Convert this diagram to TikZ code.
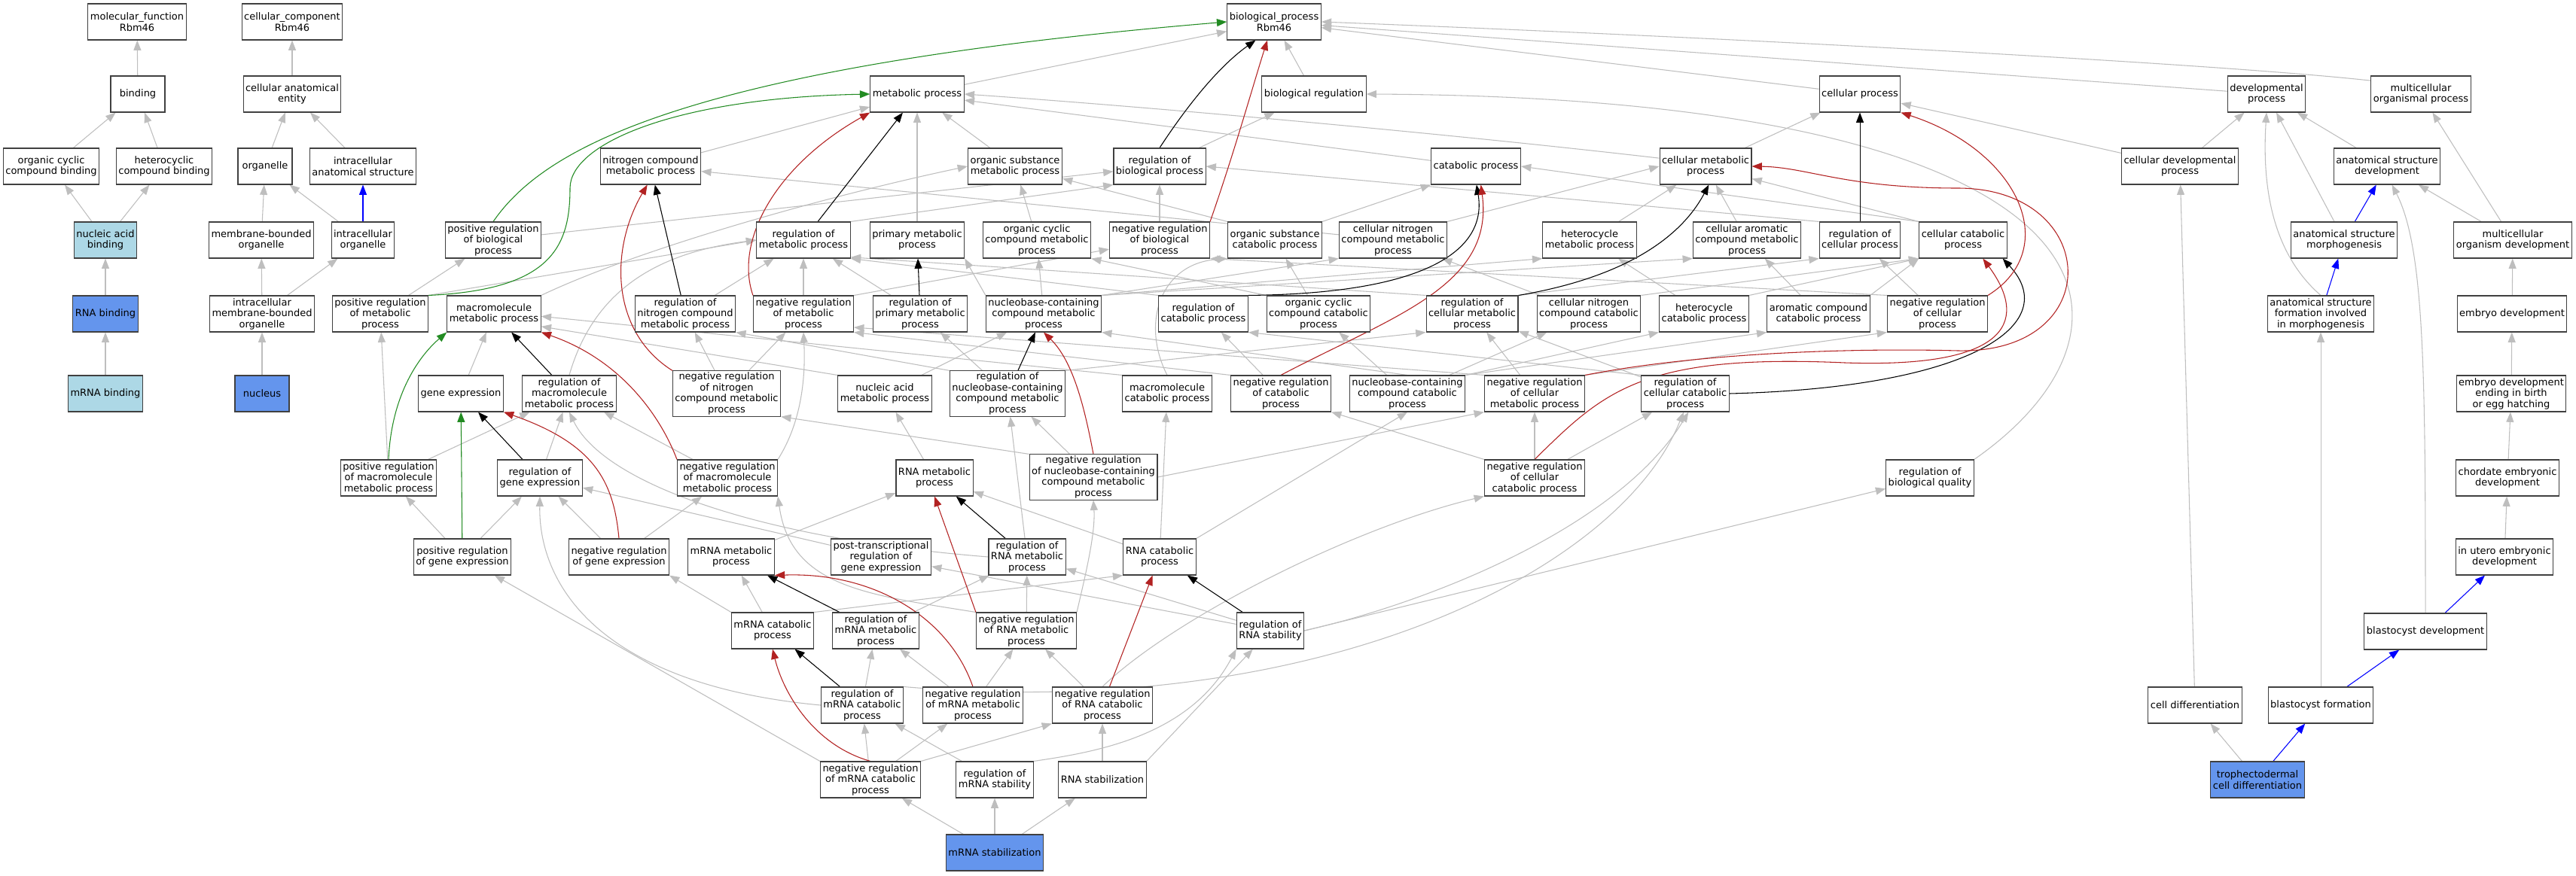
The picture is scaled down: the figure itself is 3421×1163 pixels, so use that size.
\documentclass[tikz,border=0pt]{standalone}
\usepackage{fontspec}
\setmainfont{DejaVu Sans}
\usetikzlibrary{arrows.meta,backgrounds}
\definecolor{isagray}{HTML}{BEBEBE}
\definecolor{negred}{HTML}{B22222}
\definecolor{posgreen}{HTML}{228B22}
\definecolor{lightblue}{HTML}{ADD8E6}
\definecolor{cornflower}{HTML}{6495ED}

\begin{document}
\begin{tikzpicture}[x=0.75pt, y=-0.75pt,
    font=\fontsize{9.75}{10.9}\selectfont,
    term/.style={draw=black!75, line width=0.8pt, fill=white, align=center, inner xsep=2.25pt, inner ysep=1.5pt, minimum height=36pt, minimum width=54pt},
    termlight/.style={term, fill=lightblue},
    termdark/.style={term, fill=cornflower},
    arr/.style={line width=0.8pt, -{Triangle[length=10pt,width=7.5pt]}},
    isa/.style={arr, color=isagray},
    regs/.style={arr, color=black},
    negregs/.style={arr, color=negred},
    posregs/.style={arr, color=posgreen},
    partof/.style={arr, color=blue}]
\useasboundingbox (0,0) rectangle (3421,1163);

\node (mf) [term] at (182,29) {molecular\_function\\Rbm46};
\node (cc) [term] at (388,29) {cellular\_component\\Rbm46};
\node (bp) [term] at (1692,29) {biological\_process\\Rbm46};

\node (binding) [term] at (183,125) {binding};
\node (cae) [term] at (388,125) {cellular anatomical\\entity};
\node (metab) [term] at (1218,125) {metabolic process};
\node (bioreg) [term] at (1745,125) {biological regulation};
\node (cellproc) [term] at (2470,125) {cellular process};
\node (devproc) [term] at (3010,125) {developmental\\process};
\node (mcop) [term] at (3215,125) {multicellular\\organismal process};

\node (occb) [term] at (68,221) {organic cyclic\\compound binding};
\node (hcb) [term] at (218,221) {heterocyclic\\compound binding};
\node (organelle) [term] at (352,221) {organelle};
\node (ias) [term] at (482,221) {intracellular\\anatomical structure};
\node (ncmp) [term] at (864,221) {nitrogen compound\\metabolic process};
\node (osmp) [term] at (1348,221) {organic substance\\metabolic process};
\node (rbp) [term] at (1540,221) {regulation of\\biological process};
\node (catab) [term] at (1960,221) {catabolic process};
\node (cmp) [term] at (2265,221) {cellular metabolic\\process};
\node (cdp) [term] at (2895,221) {cellular developmental\\process};
\node (asd) [term] at (3170,221) {anatomical structure\\development};

\node (nab) [termlight] at (140,319) {nucleic acid\\binding};
\node (mbo) [term] at (347,319) {membrane-bounded\\organelle};
\node (io) [term] at (482,319) {intracellular\\organelle};
\node (prbp) [term] at (655,319) {positive regulation\\of biological\\process};
\node (rmp) [term] at (1067,319) {regulation of\\metabolic process};
\node (pmp) [term] at (1218,319) {primary metabolic\\process};
\node (occmp) [term] at (1377,319) {organic cyclic\\compound metabolic\\process};
\node (nrbp) [term] at (1540,319) {negative regulation\\of biological\\process};
\node (oscp) [term] at (1693,319) {organic substance\\catabolic process};
\node (cncmp) [term] at (1850,319) {cellular nitrogen\\compound metabolic\\process};
\node (hmp) [term] at (2111,319) {heterocycle\\metabolic process};
\node (cacmp) [term] at (2320,319) {cellular aromatic\\compound metabolic\\process};
\node (rcp) [term] at (2470,319) {regulation of\\cellular process};
\node (ccp) [term] at (2607,319) {cellular catabolic\\process};
\node (asm) [term] at (3113,319) {anatomical structure\\morphogenesis};
\node (mod) [term] at (3337,319) {multicellular\\organism development};

\node (rnab) [termdark] at (140,417) {RNA binding};
\node (imbo) [term] at (348,417) {intracellular\\membrane-bounded\\organelle};
\node (prmp) [term] at (505,417) {positive regulation\\of metabolic\\process};
\node (mmp) [term] at (656,417) {macromolecule\\metabolic process};
\node (rncmp) [term] at (910,417) {regulation of\\nitrogen compound\\metabolic process};
\node (nrmp) [term] at (1067,417) {negative regulation\\of metabolic\\process};
\node (rpmp) [term] at (1222,417) {regulation of\\primary metabolic\\process};
\node (nbcmp) [term] at (1386,417) {nucleobase-containing\\compound metabolic\\process};
\node (rcatp) [term] at (1598,417) {regulation of\\catabolic process};
\node (occcp) [term] at (1751,417) {organic cyclic\\compound catabolic\\process};
\node (rcmp) [term] at (1955,417) {regulation of\\cellular metabolic\\process};
\node (cnccp) [term] at (2110,417) {cellular nitrogen\\compound catabolic\\process};
\node (hcp) [term] at (2263,417) {heterocycle\\catabolic process};
\node (accp) [term] at (2415,417) {aromatic compound\\catabolic process};
\node (nrcp) [term] at (2573,417) {negative regulation\\of cellular\\process};
\node (asfm) [term] at (3082,417) {anatomical structure\\formation involved\\in morphogenesis};
\node (ed) [term] at (3336,417) {embryo development};

\node (mrnab) [termlight] at (140,523) {mRNA binding};
\node (nucleus) [termdark] at (348,523) {nucleus};
\node (ge) [term] at (612,523) {gene expression};
\node (rmmp) [term] at (756,523) {regulation of\\macromolecule\\metabolic process};
\node (nrncmp) [term] at (965,523) {negative regulation\\of nitrogen\\compound metabolic\\process};
\node (nament) [term] at (1175,523) {nucleic acid\\metabolic process};
\node (rnbcmp) [term] at (1338,523) {regulation of\\nucleobase-containing\\compound metabolic\\process};
\node (mcp) [term] at (1550,523) {macromolecule\\catabolic process};
\node (nrcatp) [term] at (1701,523) {negative regulation\\of catabolic\\process};
\node (nbccp) [term] at (1869,523) {nucleobase-containing\\compound catabolic\\process};
\node (nrcmp) [term] at (2038,523) {negative regulation\\of cellular\\metabolic process};
\node (rccp) [term] at (2238,523) {regulation of\\cellular catabolic\\process};
\node (edb) [term] at (3335,523) {embryo development\\ending in birth\\or egg hatching};

\node (prmmp) [term] at (516,635) {positive regulation\\of macromolecule\\metabolic process};
\node (rge) [term] at (717,635) {regulation of\\gene expression};
\node (nrmmp) [term] at (966,635) {negative regulation\\of macromolecule\\metabolic process};
\node (rnamp) [term] at (1241,635) {RNA metabolic\\process};
\node (nrnbcmp) [term] at (1452,634) {negative regulation\\of nucleobase-containing\\compound metabolic\\process};
\node (nrccp) [term] at (2038,635) {negative regulation\\of cellular\\catabolic process};
\node (rbq) [term] at (2563,635) {regulation of\\biological quality};
\node (ced) [term] at (3330,635) {chordate embryonic\\development};

\node (prge) [term] at (614,740) {positive regulation\\of gene expression};
\node (nrge) [term] at (822,740) {negative regulation\\of gene expression};
\node (mrnamp) [term] at (971,740) {mRNA metabolic\\process};
\node (ptrge) [term] at (1170,740) {post-transcriptional\\regulation of\\gene expression};
\node (rrnamp) [term] at (1364,740) {regulation of\\RNA metabolic\\process};
\node (rnacp) [term] at (1540,740) {RNA catabolic\\process};
\node (iued) [term] at (3326,740) {in utero embryonic\\development};

\node (mrnacp) [term] at (1026,838) {mRNA catabolic\\process};
\node (rmrnamp) [term] at (1163,838) {regulation of\\mRNA metabolic\\process};
\node (nrrnamp) [term] at (1363,838) {negative regulation\\of RNA metabolic\\process};
\node (rrs) [term] at (1687,838) {regulation of\\RNA stability};
\node (bd) [term] at (3221,839) {blastocyst development};

\node (rmrnacp) [term] at (1145,937) {regulation of\\mRNA catabolic\\process};
\node (nrmrnamp) [term] at (1292,937) {negative regulation\\of mRNA metabolic\\process};
\node (nrrnacp) [term] at (1464,937) {negative regulation\\of RNA catabolic\\process};
\node (celldiff) [term] at (2915,937) {cell differentiation};
\node (bf) [term] at (3082,937) {blastocyst formation};

\node (nrmrnacp) [term] at (1156,1036) {negative regulation\\of mRNA catabolic\\process};
\node (rmrnas) [term] at (1321,1036) {regulation of\\mRNA stability};
\node (rnas) [term] at (1464,1036) {RNA stabilization};
\node (tcd) [termdark] at (2998,1036) {trophectodermal\\cell differentiation};

\node (mrnas) [termdark] at (1321,1133) {mRNA stabilization};

\begin{scope}[on background layer]
\path[isa]
  (binding) edge (mf)
  (occb) edge (binding)
  (hcb) edge (binding)
  (nab) edge (occb)
  (nab) edge (hcb)
  (rnab) edge (nab)
  (mrnab) edge (rnab)
  (cae) edge (cc)
  (organelle) edge (cae)
  (ias) edge (cae)
  (mbo) edge (organelle)
  (io) edge (organelle)
  (imbo) edge (mbo)
  (imbo) edge (io)
  (nucleus) edge (imbo)
  (metab) edge (bp)
  (bioreg) edge (bp)
  (cellproc) edge (bp)
  (devproc) edge (bp)
  (cdp) edge (devproc)
  (cdp) edge (cellproc)
  (asd) edge (devproc)
  (asm) edge (devproc)
  (mod) edge (asd)
  (mod) edge (mcop)
  (ed) edge (mod)
  (edb) edge (ed)
  (ced) edge (edb)
  (iued) edge (ced)
  (bf) edge (asfm)
  (tcd) edge (celldiff)
  (celldiff) edge (cdp)
  (cmp) edge (cellproc)
  (catab) edge (metab)
  (ncmp) edge (metab)
  (osmp) edge (metab)
  (pmp) edge (metab)
  (oscp.north east) edge (catab.south west)
  (oscp.north west) edge (osmp)
  (occmp) edge (osmp)
  (cncmp) edge (ncmp)
  (cncmp.north east) edge (cmp.west)
  (hmp) edge (cmp)
  (cacmp) edge (cmp)
  (ccp.north west) edge (cmp.-15)
  (ccp.north west) edge (catab.east)
  (rbp) edge (bioreg)
  (nrbp) edge (rbp)
  (prbp) edge (rbp)
  (rmp.north east) edge (rbp.south west)
  (rcp.north west) edge (rbp.east)
  (prmp.north east) edge (rmp.west)
  (prmp) edge (prbp)
  (nrmp) edge (rmp)
  (nrmp.north east) edge (nrbp)
  (rncmp) edge (rmp)
  (rpmp) edge (rmp)
  (rcatp.north west) edge (rmp.south east)
  (rcmp.north west) edge (rmp.-20)
  (rcmp.north east) edge (rcp.south west)
  (nrncmp) edge (rncmp)
  (nrncmp) edge (nrmp)
  (nrmmp) edge (rmmp)
  (prmmp) edge (rmmp)
  (prmmp) edge (prmp)
  (ge) edge (mmp)
  (rge) edge (rmmp)
  (nrge) edge (rge)
  (nrge) edge (nrmmp)
  (prge) edge (rge)
  (prge) edge (prmmp)
  (mcp.north west) edge (mmp.-3)
  (nament.north west) edge (mmp.-15)
  (nament) edge (nbcmp)
  (rnamp) edge (nament)
  (mrnamp) edge (rnamp)
  (mrnacp) edge (mrnamp)
  (mrnacp.north east) edge (rnacp.south west)
  (mrnacp.north west) edge (nrge.south east)
  (rnacp) edge (rnamp)
  (rnacp) edge (mcp)
  (rnacp.north east) edge (nbccp.south)
  (nbccp.north) edge (nbcmp.south east)
  (nbccp) edge (cnccp)
  (nbccp.north east) edge (hcp.south west)
  (nbccp.north east) edge (accp.south west)
  (nbccp) edge (occcp)
  (occcp.north west) edge (occmp.south east)
  (occcp) edge (oscp)
  (cnccp) edge (cncmp)
  (cnccp.north east) edge (ccp.south west)
  (hcp) edge (hmp)
  (hcp.north east) edge (ccp.south west)
  (accp) edge (cacmp)
  (accp.north east) edge (ccp.south west)
  (nbcmp) edge (occmp)
  (nbcmp.north west) edge (pmp.south east)
  (nbcmp.north east) edge (cncmp.south west)
  (nbcmp.north east) edge (hmp.south west)
  (nbcmp.north east) edge (cacmp.south west)
  (rnbcmp) edge (rpmp)
  (rnbcmp.north east) edge (rcmp.south west)
  (rnbcmp.north west) edge (rncmp.south east)
  (nrnbcmp) edge (rnbcmp)
  (nrnbcmp.east) edge (nrcmp.south west)
  (nrnbcmp.north west) edge (nrncmp.south east)
  (rrnamp) edge (rnbcmp)
  (rrs) edge (rrnamp)
  (rrs) edge (ptrge)
  (rrs.east) edge (rbq)
  (ptrge) edge (rge)
  (nrrnamp) edge (rrnamp)
  (rmrnamp) edge (rrnamp)
  (nrmrnamp) edge (rmrnamp)
  (nrmrnamp) edge (nrrnamp)
  (rmrnacp) edge (rmrnamp)
  (nrmrnacp) edge (rmrnacp)
  (nrmrnacp) edge (nrmrnamp)
  (nrmrnacp.north east) edge (nrrnacp.south west)
  (nrmrnacp.north west) edge (prge)
  (rmrnas) edge (rmrnacp)
  (rnas) edge (nrrnacp)
  (rnas.north east) edge (rrs)
  (mrnas) edge (nrmrnacp)
  (mrnas) edge (rmrnas)
  (mrnas) edge (rnas)
  (nrrnacp) edge (nrrnamp)
  (nrcmp.north west) edge (nrmp.-15)
  (nrcmp) edge (rcmp)
  (nrcmp.north east) edge (nrcp.south west)
  (nrccp.north west) edge (nrcatp.south east)
  (nrccp) edge (rccp)
  (nrccp) edge (nrcmp)
  (rccp.north west) edge (rcatp.south east)
  (rccp) edge (rcmp)
  (nrcatp) edge (rcatp)
  (nrcatp.north west) edge (nrmp.south east)
  (nrcp) edge (rcp)
  (nrcp.north west) edge (nrbp.south east);
\draw[isa] (mcop.165) .. controls (2950,85) and (2300,50) .. (bp.east);
\draw[isa] (asfm.north) .. controls (3010,330) and (3005,230) .. (devproc.south);
\draw[isa] (bd.north) .. controls (3221,500) and (3220,330) .. (asd.-75);
\draw[isa] (cmp.170) .. controls (1900,175) and (1500,140) .. (metab.east);
\draw[isa] (rmmp.north) .. controls (790,380) and (880,335) .. (rmp.west);
\draw[isa] (nrmmp.north east) .. controls (1065,560) and (1070,500) .. (nrmp.south);
\draw[isa] (mmp.north east) .. controls (850,330) and (1100,260) .. (osmp.west);
\draw[isa] (mcp.north) .. controls (1515,430) and (1540,350) .. (oscp.south west);
\draw[isa] (rrnamp.west) .. controls (1000,715) and (800,640) .. (rmmp.south);
\draw[isa] (nrrnamp.north east) .. controls (1440,770) and (1455,710) .. (nrnbcmp.south);
\draw[isa] (nrrnamp.north west) .. controls (1150,790) and (1050,780) .. (nrmmp.south east);
\draw[isa] (rmrnacp.west) .. controls (800,910) and (715,780) .. (rge.south);
\draw[isa] (rmrnacp.north east) .. controls (1750,960) and (2150,760) .. (rccp.-95);
\draw[isa] (rrs.east) .. controls (1900,800) and (2150,700) .. (rccp.-80);
\draw[isa] (rmrnas.north east) .. controls (1450,1000) and (1580,980) .. (rrs.south west);
\draw[isa] (nrrnacp.north) .. controls (1560,820) and (1800,700) .. (nrccp.south west);
\draw[isa] (rbq.north east) .. controls (2880,430) and (2820,130) .. (bioreg.east);

\path[regs]
  (rmp) edge (metab)
  (rncmp) edge (ncmp)
  (rpmp) edge (pmp)
  (rmmp) edge (mmp)
  (rge) edge (ge)
  (rnbcmp) edge (nbcmp)
  (rcp) edge (cellproc)
  (rrnamp) edge (rnamp)
  (rmrnamp) edge (mrnamp)
  (rmrnacp) edge (mrnacp)
  (rrs) edge (rnacp);
\draw[regs] (rbp.north) .. controls (1590,120) and (1630,80) .. (bp.225);
\draw[regs] (rcatp.north east) .. controls (1900,390) and (1975,330) .. (catab.-88);
\draw[regs] (rcmp.north east) .. controls (2150,370) and (2230,320) .. (cmp.-80);
\draw[regs] (rccp.east) .. controls (2620,515) and (2740,430) .. (ccp.-25);

\path[negregs]
  (nrrnamp.north west) edge (rnamp.south)
  (nrrnacp) edge (rnacp);
\draw[negregs] (nrbp.north east) .. controls (1640,200) and (1665,110) .. (bp.250);
\draw[negregs] (nrmp.north west) .. controls (975,320) and (1030,220) .. (metab.south west);
\draw[negregs] (nrncmp.north west) .. controls (810,440) and (810,330) .. (ncmp.-100);
\draw[negregs] (nrmmp.north west) .. controls (880,560) and (830,480) .. (mmp.south east);
\draw[negregs] (nrge.north) .. controls (815,640) and (790,590) .. (ge.south east);
\draw[negregs] (nrnbcmp.north) .. controls (1440,540) and (1425,480) .. (nbcmp.south);
\draw[negregs] (nrmrnamp.north) .. controls (1260,820) and (1160,760) .. (mrnamp.south east);
\draw[negregs] (nrmrnacp.north) .. controls (1080,990) and (1040,920) .. (mrnacp.south);
\draw[negregs] (nrcatp.north) .. controls (1850,420) and (1985,380) .. (catab.-75);
\draw[negregs] (nrcmp.north east) .. controls (2250,470) and (2450,462) .. (2600,466)
  .. controls (2800,470) and (2790,250) .. (2600,250)
  .. controls (2450,250) and (2400,222) .. (cmp.east);
\draw[negregs] (nrccp.north) .. controls (2130,520) and (2180,470) .. (2450,482)
  .. controls (2680,490) and (2690,420) .. (ccp.-43);
\draw[negregs] (nrcp.north east) .. controls (2740,330) and (2680,200) .. (cellproc.south east);

\path[posregs]
  (prge) edge (ge);
\draw[posregs] (prbp.north) .. controls (720,200) and (900,90) .. (bp.west);
\draw[posregs] (prmp.north east) .. controls (730,385) and (757,330) .. (757,250)
  .. controls (757,190) and (900,130) .. (metab.west);
\draw[posregs] (prmmp.north) .. controls (520,520) and (560,470) .. (mmp.south west);

\path[partof]
  (io) edge (ias)
  (asm) edge (asd)
  (asfm) edge (asm)
  (bd) edge (iued)
  (bf) edge (bd)
  (tcd) edge (bf);
\end{scope}
\end{tikzpicture}
\end{document}
